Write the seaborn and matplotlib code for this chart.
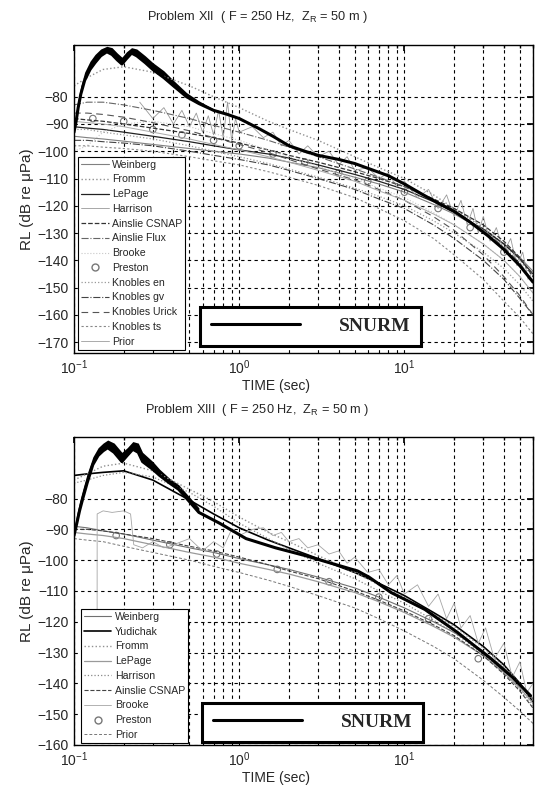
import numpy as np
import pandas as pd
import matplotlib
matplotlib.use("Agg")
import matplotlib.pyplot as plt
import seaborn as sns
from matplotlib.lines import Line2D

# ---------------- DATA ----------------
t_grid = [0.1, 0.12, 0.15, 0.2, 0.3, 0.5, 0.7, 1, 1.5, 2, 3, 5, 7, 10, 15, 20, 30, 40, 50, 60]

# Problem XII
snurm12_t = [0.1, 0.103, 0.106, 0.11, 0.116, 0.125, 0.134, 0.145, 0.158, 0.17, 0.183, 0.195,
             0.208, 0.223, 0.24, 0.27, 0.3, 0.35, 0.4, 0.48, 0.57, 0.7, 0.85, 1.0, 1.3, 1.6,
             2.0, 2.5, 3.0, 4.0, 5.0, 6.5, 8.0, 10, 13, 16, 20, 25, 32, 40, 50, 60]
snurm12 = [-93, -89, -84, -79, -74, -70, -67.5, -65, -63.5, -64.5, -66.5, -68,
           -66, -64, -65, -67.5, -70, -73, -76, -80, -82.5, -85, -86.5, -88, -91.5, -94.5,
           -98, -100, -101.5, -103, -104.5, -107, -109, -112, -116, -119, -122, -126, -131, -136, -142, -148]
snurm12_hi = [-91, -86, -81, -76, -71, -67, -64.5, -62.5, -61.5, -62, -64, -65.5,
              -63.5, -62, -62.5, -65, -67.5, -70.5, -74, -78.5, -81.5, -84.5]

weinberg12 = [-94.5, -95, -95.5, -96.3, -97.5, -99, -100, -101, -102.5, -104, -106, -109.5, -112, -115, -119.5, -123, -129, -134, -139, -144]
fromm12 = [-76, -73, -70, -69, -71, -76, -80, -84, -89, -92, -96, -102, -106, -110, -116, -121, -128, -134, -140, -146]
lepage12 = [-91, -91.5, -92, -93, -94.5, -96.5, -98, -99.5, -101, -102.5, -105, -108.5, -111, -114, -118.5, -122.5, -128.5, -134, -139.5, -145]
csnap12 = [-88, -88.5, -89, -90, -91.5, -93.5, -95, -97, -99.5, -101.5, -104, -107.5, -110, -113, -117.5, -121, -127, -133, -139, -146]
flux12 = [-83, -82, -82, -83, -85, -88, -90.5, -93, -96, -98.5, -102, -106.5, -109.5, -113, -118, -122, -129, -135, -141, -148]
brooke12 = [-100, -98, -93, -90, -89, -91, -93.5, -96, -99.5, -102, -105.5, -110, -113.5, -117, -122.5, -127, -134, -140, -146, -152]
knen12 = [-92, -92, -93, -94, -95.5, -98, -100, -102, -104.5, -106.5, -109.5, -113.5, -116.5, -120, -125.5, -130, -137, -143, -149, -155]
kngv12 = [-96, -96, -96.5, -97, -98, -100, -101.5, -103, -105, -107, -110, -114, -117.5, -121, -127, -132, -140, -147, -154, -160]
knurick12 = [-86, -86, -86.5, -87.5, -89.5, -92.5, -95, -97.5, -100.5, -103, -106.5, -110.5, -114, -118, -124, -129, -138, -146, -153, -160]
knts12 = [-98, -98, -98.5, -99, -100, -102, -103.5, -105, -107.5, -109.5, -112.5, -117, -121, -125.5, -132, -138, -147, -155, -161, -167]
prior12 = [-89, -89.5, -90, -91, -93, -95.5, -97.5, -99.5, -102, -104, -107, -111, -114.5, -118, -123, -127, -134, -140, -146, -152]
preston12_t = [0.13, 0.2, 0.3, 0.45, 0.7, 1.0, 1.6, 2.5, 4, 6, 10, 16, 25, 40]
preston12 = [-88, -89, -92, -94, -96, -98, -101, -104, -108, -111, -115, -121, -128, -137]
harrison12_t = [0.25, 0.3, 0.35, 0.4, 0.45, 0.5, 0.55, 0.6, 0.65, 0.7, 0.75, 0.8, 0.85, 0.9, 0.95, 1.0,
                1.2, 1.4, 1.6, 1.8, 2.0, 2.3, 2.6, 3.0, 3.5, 4.0, 4.5, 5.0, 6.0, 7.0, 8.0, 9.0, 10,
                12, 14, 16, 18, 20, 22, 24, 26, 28, 30, 33, 36, 40, 44, 48, 52, 56, 60]
harrison12 = [-82, -88, -84, -90, -85, -91, -86, -93, -87, -94, -85, -95, -82, -96, -88, -93,
              -91, -95, -93, -98, -96, -101, -98, -102, -100, -105, -102, -107, -106, -110, -108, -113, -111,
              -117, -114, -121, -116, -124, -118, -127, -121, -130, -124, -133, -128, -137, -132, -142, -137, -147, -144]

# Problem XIII
snurm13_t = [0.1, 0.104, 0.108, 0.113, 0.12, 0.13, 0.14, 0.15, 0.16, 0.175, 0.195, 0.21, 0.227,
             0.245, 0.26, 0.3, 0.33, 0.38, 0.43, 0.5, 0.57, 0.76, 1.1, 1.66, 2.5, 3.6, 5.2, 6.1,
             8.3, 13.3, 21, 33.4, 45, 58]
snurm13 = [-92, -88, -84, -80, -75, -69, -66, -64.5, -63.5, -65, -68, -66, -64,
           -65, -68, -70.5, -72.5, -75, -77, -81, -84.5, -88, -93, -96, -98.5, -101, -103.5, -105.5,
           -110.5, -116, -123.5, -132, -138, -144]
snurm13_hi = [-90, -85, -81, -77, -72, -66.5, -63.5, -62, -61, -62, -65, -63.5, -61.5,
              -62, -65, -68, -70.5, -73.5, -75.5, -79.5, -83]

weinberg13 = [-89, -89.5, -90.5, -91.5, -93.5, -96, -97.5, -99.5, -101.5, -103, -105.5, -109, -112, -115.5, -120, -123.5, -129.5, -135, -140, -145]
yudichak13 = [-72.5, -72, -71.5, -71, -74, -80.5, -85, -89.5, -93.5, -96, -99.5, -104, -107.5, -111.5, -117, -121, -128, -134, -140, -146]
fromm13 = [-74, -72, -69.5, -68.5, -71, -77, -81, -86, -91, -94, -98.5, -104, -108, -112, -117.5, -121.5, -128.5, -134.5, -140, -146]
lepage13 = [-91, -91.5, -92, -93, -95, -97.5, -99, -101, -103, -104.5, -107, -110.5, -113.5, -117, -121.5, -125, -131, -136.5, -141.5, -146.5]
harrison13 = [-75, -74, -72.5, -71.5, -73, -78, -82.5, -88, -93, -96.5, -101, -106, -110, -114, -119.5, -123.5, -130.5, -136.5, -142, -147.5]
csnap13 = [-90, -90, -90.5, -91.5, -93, -95.5, -97, -99, -101.5, -103.5, -106, -110, -113, -116.5, -121, -124.5, -131, -137, -142.5, -148]
prior13 = [-93, -93.5, -94, -95.5, -97.5, -100, -102, -104, -106.5, -108.5, -111.5, -115.5, -119, -123, -128, -132, -139, -144.5, -149, -153]
preston13_t = [0.18, 0.38, 0.73, 1.7, 3.5, 7, 14, 28]
preston13 = [-92, -95, -98, -103, -107, -112, -119, -132]
brooke13_t = [0.138, 0.1381, 0.15, 0.17, 0.2, 0.22, 0.23, 0.26, 0.3, 0.35, 0.4, 0.5, 0.6, 0.7, 0.8, 0.9,
              1.0, 1.2, 1.4, 1.6, 1.8, 2.0, 2.3, 2.6, 3.0, 3.5, 4.0, 4.5, 5.0, 6, 7, 8, 9, 10,
              12, 14, 16, 18, 20, 22, 25, 28, 31, 35, 40, 45, 50, 55, 60]
brooke13 = [-125, -85, -84, -84.5, -84, -85, -95, -96, -94, -96, -95, -93, -97, -94, -96, -90,
            -92, -90, -89.5, -92, -91, -94, -93, -96, -95, -98, -97, -101, -99, -104, -103, -108, -105, -111,
            -108, -115, -111, -119, -114, -122, -118, -127, -122, -132, -127, -138, -133, -143, -140]

titles = ["Problem XII  ( F = 250 Hz,  Z$_\\mathregular{R}$ = 50 m )",
          "Problem XIII  ( F = 250 Hz,  Z$_\\mathregular{R}$ = 50 m )"]
yticks12 = [-170, -160, -150, -140, -130, -120, -110, -100, -90, -80]
yticks13 = [-160, -150, -140, -130, -120, -110, -100, -90, -80]

# ---------------- STYLE ----------------
sns.set_theme(style="white")
plt.rcParams['font.family'] = ['Liberation Sans', 'DejaVu Sans']
plt.rcParams['mathtext.fontset'] = 'custom'
plt.rcParams['mathtext.rm'] = 'Liberation Sans'
plt.rcParams['mathtext.it'] = 'Liberation Sans'

fig = plt.figure(figsize=(5.37, 7.87), dpi=100)
ax1 = fig.add_axes([0.1378, 0.5515, 0.8547, 0.3914])
ax2 = fig.add_axes([0.1378, 0.0534, 0.8547, 0.3914])


def draw(ax, t, y, label, color, ls, lw):
    sns.lineplot(x=t, y=y, ax=ax, color=color, linestyle=ls, linewidth=lw,
                 estimator=None, sort=False, legend=False)
    ln = ax.lines[-1]
    ln.set_label(label)
    return ln


def circles(ax, t, y, label):
    sns.scatterplot(x=t, y=y, ax=ax, marker='o', s=22, facecolor='none',
                    edgecolor='#777777', linewidth=0.8, legend=False)
    return Line2D([], [], marker='o', ls='none', mfc='none', mec='#777777', ms=5, label=label)


def setup(ax, yticks, ylim):
    ax.set_xscale('log')
    ax.set_xlim(0.1, 60)
    ax.set_ylim(*ylim)
    ax.set_yticks(yticks)
    ax.set_xticks([0.1, 1, 10])
    ax.set_xticklabels(['$10^{-1}$', '$10^{0}$', '$10^{1}$'])
    ax.tick_params(axis='both', which='both', direction='in', top=True, right=True,
                   labelsize=10, color='black', pad=4)
    ax.tick_params(which='major', length=4)
    ax.tick_params(which='minor', length=2.5)
    ax.grid(True, which='both', axis='x', color='black', linestyle=(0, (3, 3)), linewidth=0.8)
    ax.grid(True, which='major', axis='y', color='black', linestyle=(0, (3, 3)), linewidth=0.8)
    for s in ax.spines.values():
        s.set_color('black')
        s.set_linewidth(1.0)
    ax.set_xlabel('TIME (sec)', fontsize=10)
    ax.xaxis.set_label_coords(0.44, -0.085)
    ax.set_ylabel('RL (dB re \u03bcPa)', fontsize=11, labelpad=2)


def snurm_box(ax, handle, x0, y0):
    leg = ax.legend(handles=[handle], labels=['SNURM'], loc='lower left',
                    bbox_to_anchor=(x0, y0), borderaxespad=0, handlelength=4.6,
                    handletextpad=2.0, borderpad=0.55, fancybox=False, framealpha=1,
                    edgecolor='black', prop={'family': 'Liberation Serif', 'weight': 'bold', 'size': 14})
    leg.get_frame().set_linewidth(2.2)
    return leg


# ---- Panel XII ----
h = []
h.append(draw(ax1, t_grid, weinberg12, 'Weinberg', '#808080', '-', 0.8))
h.append(draw(ax1, t_grid, fromm12, 'Fromm', '#909090', ':', 1.0))
h.append(draw(ax1, t_grid, lepage12, 'LePage', '#222222', '-', 0.9))
h.append(draw(ax1, harrison12_t, harrison12, 'Harrison', '#999999', '-', 0.6))
h.append(draw(ax1, t_grid, csnap12, 'Ainslie CSNAP', '#333333', '--', 0.9))
h.append(draw(ax1, t_grid, flux12, 'Ainslie Flux', '#666666', '-.', 0.8))
h.append(draw(ax1, t_grid, brooke12, 'Brooke', '#c8c8c8', ':', 0.8))
h.append(circles(ax1, preston12_t, preston12, 'Preston'))
h.append(draw(ax1, t_grid, knen12, 'Knobles en', '#999999', ':', 0.9))
h.append(draw(ax1, t_grid, kngv12, 'Knobles gv', '#444444', '-.', 0.8))
h.append(draw(ax1, t_grid, knurick12, 'Knobles Urick', '#555555', (0, (6, 4)), 0.8))
h.append(draw(ax1, t_grid, knts12, 'Knobles ts', '#888888', (0, (2, 2)), 0.8))
h.append(draw(ax1, t_grid, prior12, 'Prior', '#aaaaaa', '-', 0.7))
s1 = draw(ax1, snurm12_t, snurm12, 'SNURM', 'black', '-', 2.2)
ax1.fill_between(snurm12_t[:len(snurm12_hi)], snurm12[:len(snurm12_hi)], snurm12_hi, color='black', lw=0)
setup(ax1, yticks12, (-174, -61))
leg1 = ax1.legend(handles=h, loc='lower left', bbox_to_anchor=(0.009, 0.01), borderaxespad=0,
                  fontsize=7.6, handlelength=2.6, handletextpad=0.3, labelspacing=0.45,
                  borderpad=0.3, fancybox=False, framealpha=1, edgecolor='black')
leg1.get_frame().set_linewidth(0.8)
ax1.add_artist(leg1)
snurm_box(ax1, s1, 0.2745, 0.0227)

# ---- Panel XIII ----
h = []
h.append(draw(ax2, t_grid, weinberg13, 'Weinberg', '#707070', '-', 0.8))
h.append(draw(ax2, t_grid, yudichak13, 'Yudichak', 'black', '-', 1.2))
h.append(draw(ax2, t_grid, fromm13, 'Fromm', '#909090', ':', 1.0))
h.append(draw(ax2, t_grid, lepage13, 'LePage', '#9a9a9a', '-', 0.9))
h.append(draw(ax2, t_grid, harrison13, 'Harrison', '#888888', ':', 0.9))
h.append(draw(ax2, t_grid, csnap13, 'Ainslie CSNAP', '#444444', '--', 0.8))
h.append(draw(ax2, brooke13_t, brooke13, 'Brooke', '#a5a5a5', '-', 0.6))
h.append(circles(ax2, preston13_t, preston13, 'Preston'))
h.append(draw(ax2, t_grid, prior13, 'Prior', '#777777', (0, (3, 2)), 0.7))
s2 = draw(ax2, snurm13_t, snurm13, 'SNURM', 'black', '-', 2.2)
ax2.fill_between(snurm13_t[:len(snurm13_hi)], snurm13[:len(snurm13_hi)], snurm13_hi, color='black', lw=0)
setup(ax2, yticks13, (-160, -60))
leg2 = ax2.legend(handles=h, loc='lower left', bbox_to_anchor=(0.015, 0.006), borderaxespad=0,
                  fontsize=7.6, handlelength=2.6, handletextpad=0.3, labelspacing=0.45,
                  borderpad=0.3, fancybox=False, framealpha=1, edgecolor='black')
leg2.get_frame().set_linewidth(0.8)
ax2.add_artist(leg2)
snurm_box(ax2, s2, 0.279, 0.01)

fig.text(0.48, 1 - 17 / 787, titles[0], ha='center', va='center', fontsize=9.2)
fig.text(0.48, 1 - 410 / 787, titles[1], ha='center', va='center', fontsize=9.2)

fig.savefig('out.png', dpi=100)
